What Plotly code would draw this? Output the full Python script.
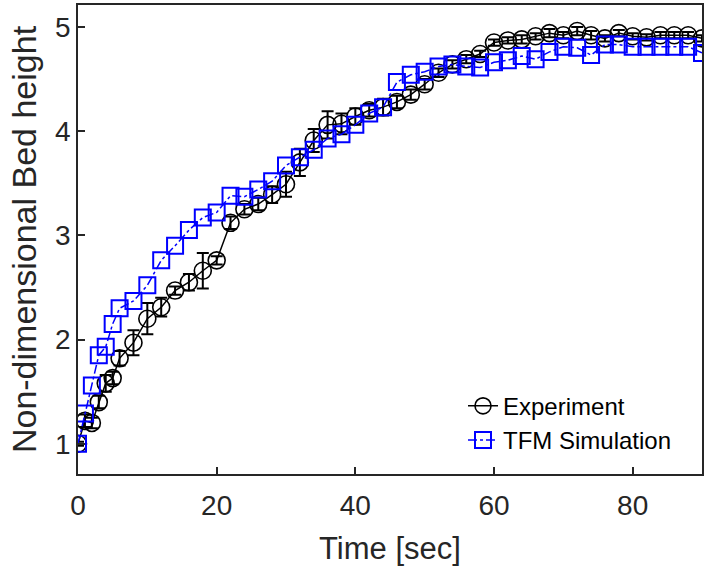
import plotly.graph_objects as go

# time stamps shared by both series [sec]
time_s = [0, 1, 2, 3, 4, 5, 6, 8, 10, 12, 14, 16, 18, 20, 22, 24, 26, 28, 30,
          32, 34, 36, 38, 40, 42, 44, 46, 48, 50, 52, 54, 56, 58, 60, 62, 64,
          66, 68, 70, 72, 74, 76, 78, 80, 82, 84, 86, 88, 90]

experiment = [1.00, 1.22, 1.20, 1.40, 1.58, 1.63, 1.82, 1.97, 2.20, 2.31, 2.47,
              2.55, 2.66, 2.76, 3.12, 3.25, 3.30, 3.39, 3.49, 3.70, 3.91, 4.06,
              4.07, 4.14, 4.20, 4.23, 4.28, 4.35, 4.45, 4.56, 4.64, 4.69, 4.74,
              4.85, 4.87, 4.88, 4.91, 4.94, 4.92, 4.96, 4.92, 4.89, 4.94, 4.91,
              4.90, 4.92, 4.92, 4.92, 4.89]

experiment_err = [0.02, 0.06, 0.05, 0.06, 0.08, 0.06, 0.07, 0.12, 0.15, 0.09, 0.04,
                  0.08, 0.17, 0.04, 0.06, 0.05, 0.06, 0.08, 0.12, 0.13, 0.11, 0.13,
                  0.10, 0.08, 0.06, 0.08, 0.06, 0.05, 0.05, 0.04, 0.04, 0.04, 0.03,
                  0.03, 0.03, 0.04, 0.03, 0.04, 0.03, 0.04, 0.04, 0.03, 0.03, 0.03,
                  0.03, 0.03, 0.03, 0.03, 0.03]

simulation = [1.00, 1.29, 1.56, 1.85, 1.93, 2.15, 2.30, 2.37, 2.52, 2.76, 2.90,
              3.05, 3.17, 3.22, 3.38, 3.37, 3.44, 3.52, 3.67, 3.75, 3.82, 3.93,
              3.97, 4.06, 4.17, 4.23, 4.47, 4.54, 4.57, 4.62, 4.64, 4.62, 4.61,
              4.66, 4.68, 4.72, 4.69, 4.76, 4.81, 4.80, 4.73, 4.83, 4.83, 4.81,
              4.81, 4.81, 4.81, 4.81, 4.75]

FONT = "Liberation Sans, Arial, sans-serif"
INK = "#262626"

fig = go.Figure()

fig.add_trace(go.Scatter(
    x=time_s, y=experiment, name="Experiment", mode="lines+markers",
    line=dict(color="black", width=1.5),
    marker=dict(symbol="circle-open", size=17, color="black", line=dict(width=1.6)),
    error_y=dict(type="data", array=experiment_err, color="black", thickness=2, width=6),
))

fig.add_trace(go.Scatter(
    x=time_s, y=simulation, name="TFM Simulation", mode="lines+markers",
    line=dict(color="#0000ff", width=1.5, dash="dashdot"),
    marker=dict(symbol="square-open", size=16, color="#0000ff", line=dict(width=2)),
))

axis_common = dict(
    showline=True, mirror=True, linecolor=INK, linewidth=1.5,
    ticks="inside", ticklen=7, tickwidth=1.5, tickcolor=INK,
    showgrid=False, zeroline=False, automargin=False,
    tickfont=dict(family=FONT, size=28, color=INK),
)

fig.update_xaxes(
    range=[0, 90], tickvals=[0, 20, 40, 60, 80], ticklabelstandoff=6,
    title=dict(text="Time [sec]", font=dict(family=FONT, size=31, color=INK), standoff=22),
    **axis_common,
)
fig.update_yaxes(
    range=[0.71, 5.21], tickvals=[1, 2, 3, 4, 5],
    title=dict(text="Non-dimensional Bed height", font=dict(family=FONT, size=34, color=INK), standoff=8),
    **axis_common,
)

fig.update_layout(
    width=712, height=566,
    margin=dict(l=78, r=10, t=5, b=92),
    plot_bgcolor="white", paper_bgcolor="white",
    font=dict(family=FONT, color=INK),
    legend=dict(
        x=0.617, y=0.024, xanchor="left", yanchor="bottom",
        bgcolor="rgba(255,255,255,0)", borderwidth=0,
        font=dict(family=FONT, size=24, color="black"),
        tracegroupgap=0,
    ),
)

# page has a default 8px body margin; drop it so the figure sits at the corner
fig.write_html(
    "out.html",
    config={"displayModeBar": False},
    post_script="document.body.style.margin='0';",
)
